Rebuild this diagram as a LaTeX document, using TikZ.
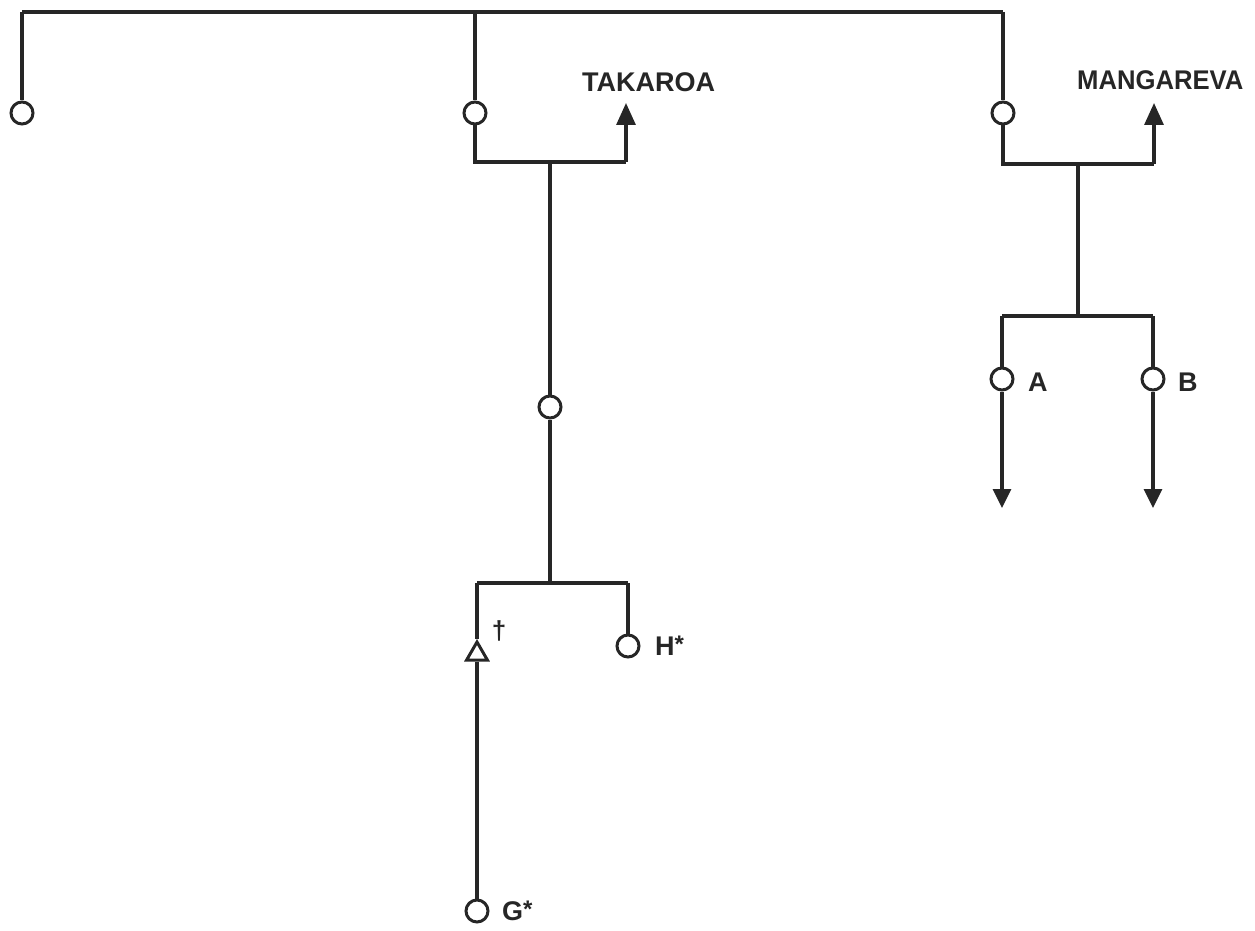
\documentclass[tikz,border=0pt]{standalone}
\usepackage{fontspec}
\setmainfont{Liberation Sans}
\usetikzlibrary{arrows.meta,shapes.geometric}
\begin{document}
\begin{tikzpicture}[x=1pt,y=-1pt,
  ln/.style={line width=3.2pt, draw=black!85},
  leaf/.style={circle, draw=black!85, line width=3pt, minimum size=22pt, inner sep=0pt},
  tri/.style={regular polygon, regular polygon sides=3, draw=black!85, line width=3pt, minimum size=24pt, inner sep=0pt},
  lab/.style={font=\fontsize{27}{30}\selectfont\bfseries, inner sep=0pt, anchor=west, text=black!85},
  ast/.style={font=\fontsize{24}{26}\selectfont\bfseries},
  tipup/.style={-{Triangle[length=22pt,width=19pt]}},
  tipdown/.style={-{Triangle[length=19pt,width=18pt]}}
]
\useasboundingbox (0,0) rectangle (1255,931);
% top bar
\coordinate (tl) at (22,12);
\coordinate (tm) at (475,12);
\coordinate (tr) at (1003,12);
\draw[ln] (tl) -- (tr);
% left leaf
\node[leaf] (c1) at (22,113) {};
\draw[ln] (tl) -- (c1);
% Takaroa branch
\node[leaf] (c2) at (475,113) {};
\draw[ln] (tm) -- (c2);
\coordinate (t1) at (475,162);
\coordinate (t2) at (626,162);
\coordinate (t3) at (550,162);
\coordinate (tA) at (626,103);
\draw[ln] (c2) -- (t1) -- (t2);
\draw[ln,tipup] (t2) -- (tA);
\node[lab] (takaroa) at (582,82) {TAKAROA};
\node[leaf] (c3) at (550,407) {};
\draw[ln] (t3) -- (c3);
\coordinate (m1) at (550,583);
\coordinate (m2) at (477,583);
\coordinate (m3) at (628,583);
\draw[ln] (c3) -- (m1);
\draw[ln] (m2) -- (m3);
\node[tri] (tri) at (477,654) {};
\draw[ln] (m2) -- (tri.north);
\node[font=\fontsize{26}{28}\selectfont\bfseries, text=black!85, inner sep=0pt] (dag) at (499,631) {†};
\node[leaf] (h) at (628,646) {};
\draw[ln] (m3) -- (h);
\node[lab] (hl) at (655,646) {H\raisebox{3pt}{\fontsize{24}{26}\selectfont*}};
\node[leaf] (g) at (477,911) {};
\draw[ln] (tri.south) -- (g);
\node[lab] (gl) at (502,911) {G\raisebox{3pt}{\fontsize{24}{26}\selectfont*}};
% Mangareva branch
\node[leaf] (c4) at (1003,113) {};
\draw[ln] (tr) -- (c4);
\coordinate (r1) at (1003,164);
\coordinate (r2) at (1154,164);
\coordinate (r3) at (1078,164);
\coordinate (rA) at (1154,103);
\draw[ln] (c4) -- (r1) -- (r2);
\draw[ln,tipup] (r2) -- (rA);
\node[lab] (mang) at (1077,80) {\scalebox{0.95}[1]{MANGAREVA}};
\coordinate (s1) at (1078,316);
\coordinate (s2) at (1002,316);
\coordinate (s3) at (1153,316);
\draw[ln] (r3) -- (s1);
\draw[ln] (s2) -- (s3);
\node[leaf] (a) at (1002,379) {};
\node[leaf] (b) at (1153,379) {};
\draw[ln] (s2) -- (a);
\draw[ln] (s3) -- (b);
\coordinate (aD) at (1002,508);
\coordinate (bD) at (1153,508);
\draw[ln,tipdown] (a) -- (aD);
\draw[ln,tipdown] (b) -- (bD);
\node[lab] (al) at (1028,382) {A};
\node[lab] (bl) at (1178,382) {B};
\end{tikzpicture}
\end{document}
